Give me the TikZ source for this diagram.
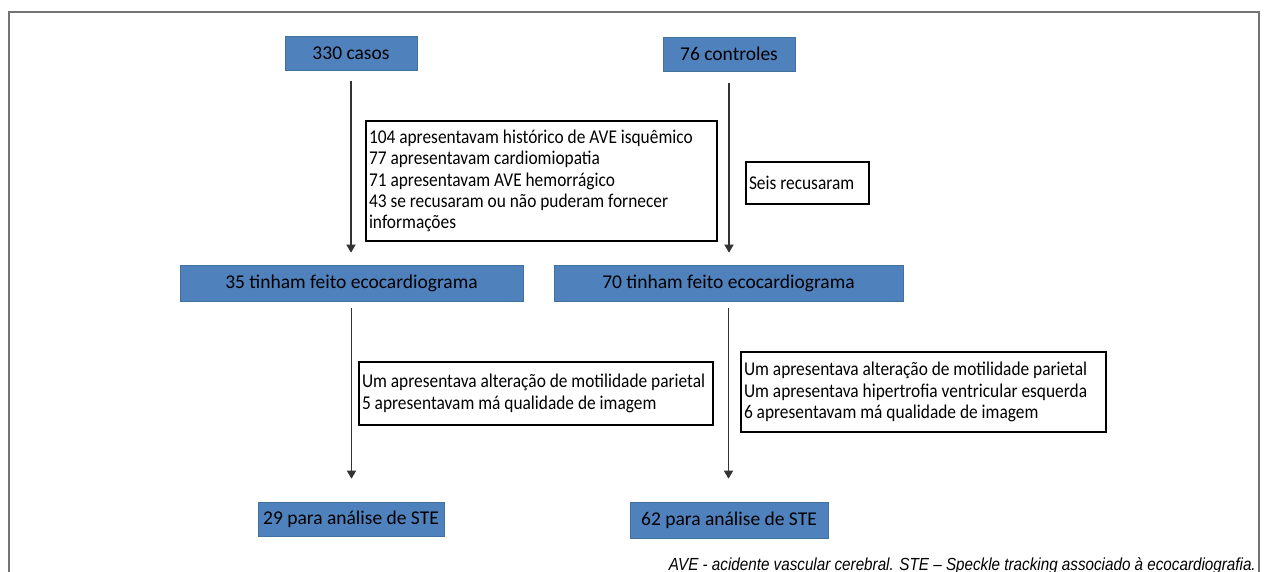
\documentclass[tikz,border=0pt]{standalone}
\usepackage{fontspec}
\setmainfont{Carlito}
\newfontfamily\narrowfont[FakeStretch=0.89]{Carlito}
\newfontfamily\notefont[FakeStretch=0.87]{Liberation Sans}
\usepackage{tikz}
\usetikzlibrary{arrows.meta}
\definecolor{boxblue}{rgb}{0.31, 0.506, 0.741}
\definecolor{boxedge}{rgb}{0.255, 0.443, 0.612}
\definecolor{framegray}{rgb}{0.45, 0.45, 0.45}

\begin{document}
\begin{tikzpicture}[
		x=1pt, y=-1pt,
		texts/.style = {text=black, font=\fontsize{19.5}{21.3}\selectfont},
		bluebox/.style = {texts, rectangle, fill=boxblue, draw=boxedge, line width=0.6pt, inner sep=0pt, minimum height=34pt},
		notebox/.style = {texts, font=\narrowfont\fontsize{19.5}{21.3}\selectfont, rectangle, fill=white, draw=black, line width=1.3pt, align=flush left, inner xsep=3pt, inner ysep=0pt},
		flowline/.style = {draw=black!80, line width=1.4pt, -{Triangle[width=9pt, length=8pt]}}
		]
		\useasboundingbox (0,0) rectangle (1269,572);
		\draw[framegray, line width=2pt] (9,573) -- (9,12) -- (1259,12) -- (1259,573);
		
		\node [bluebox, minimum width=132pt] (casos) at (351,53.5) {330 casos};
		\node [bluebox, minimum width=132pt] (controles) at (729,54) {76 controles};
		\node [bluebox, minimum width=343pt, minimum height=36pt] (eco1) at (351.5,283) {35 tinham feito ecocardiograma};
		\node [bluebox, minimum width=349pt, minimum height=36pt] (eco2) at (728.5,283) {70 tinham feito ecocardiograma};
		\node [bluebox, minimum width=186pt] (ste1) at (351,519) {29 para análise de STE};
		\node [bluebox, minimum width=198pt, minimum height=36pt] (ste2) at (729,520) {62 para análise de STE};
		
		\node [notebox, text width=345pt, minimum height=120pt] (excl1) at (541.5,181) {104 apresentavam histórico de AVE isquêmico\\77 apresentavam cardiomiopatia\\71 apresentavam AVE hemorrágico\\43 se recusaram ou não puderam fornecer\\informações};
		\node [notebox, text width=117pt, minimum height=42pt] (excl2) at (807.5,183) {Seis recusaram};
		\node [notebox, text width=348pt, minimum height=63pt] (excl3) at (536,393.5) {Um apresentava alteração de motilidade parietal\\5 apresentavam má qualidade de imagem};
		\node [notebox, text width=359pt, minimum height=80pt] (excl4) at (923.5,392) {Um apresentava alteração de motilidade parietal\\Um apresentava hipertrofia ventricular esquerda\\6 apresentavam má qualidade de imagem};
		
		\draw[flowline, shorten <=10.5pt, shorten >=12pt] (casos.south) -- (casos.south |- eco1.north);
		\draw[flowline, shorten <=12pt, shorten >=12pt] (controles.south) -- (controles.south |- eco2.north);
		\draw[flowline, shorten <=7pt, shorten >=23pt] (eco1.south) -- (eco1.south |- ste1.north);
		\draw[flowline, shorten <=7pt, shorten >=23pt] (eco2.south) -- (eco2.south |- ste2.north);
		
		\node [texts, anchor=base east, inner sep=0pt, font=\notefont\itshape\fontsize{17.5}{18}\selectfont] (nota) at (1256,570) {AVE - acidente vascular cerebral. STE – Speckle tracking associado à ecocardiografia.};
		
	\end{tikzpicture}
\end{document}
